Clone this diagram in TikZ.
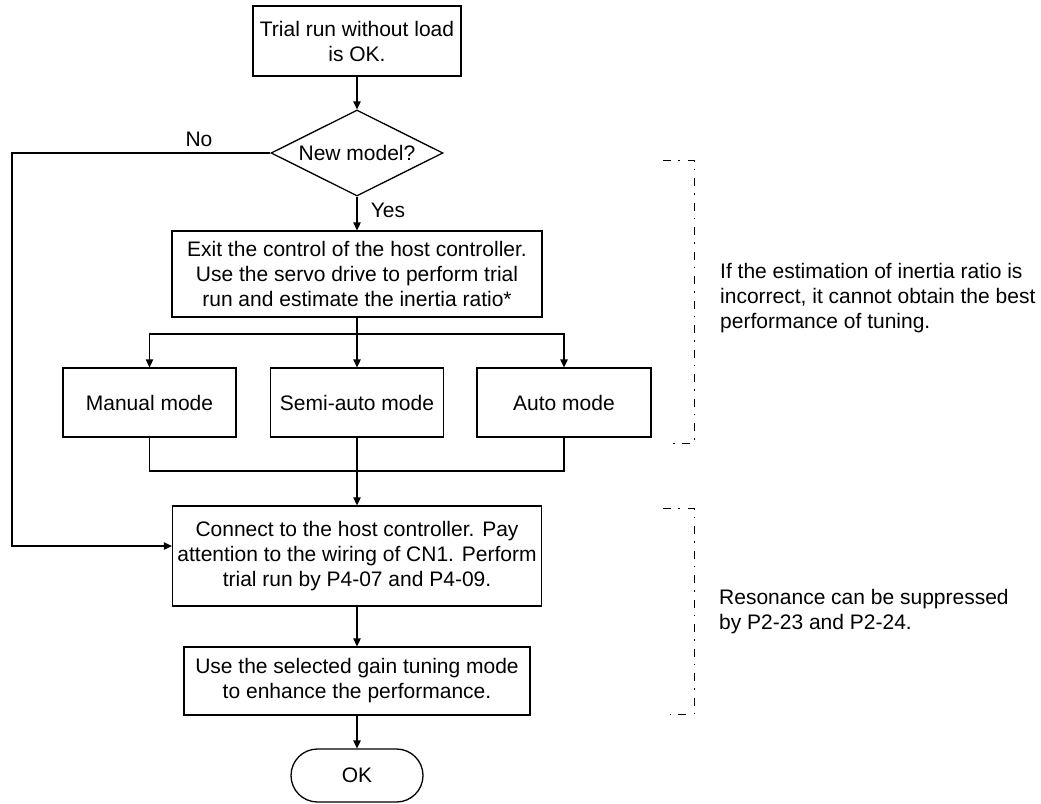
\documentclass[tikz,border=0pt]{standalone}
\usepackage{fontspec}
\setmainfont{Liberation Sans}
\usetikzlibrary{arrows.meta,shapes.geometric,shapes.misc}
\begin{document}
\begin{tikzpicture}[x=1pt,y=-1pt,
  txt/.style={font=\fontsize{21pt}{25pt}\selectfont},
  box/.style={txt,draw,line width=1.3pt,rectangle,align=center,inner sep=0pt},
  dec/.style={txt,draw,line width=1.3pt,diamond,aspect=2,inner sep=0pt,minimum width=172pt,minimum height=86pt},
  term/.style={txt,draw,line width=1.3pt,rounded rectangle,inner sep=0pt,minimum width=132pt,minimum height=53pt},
  conn/.style={line width=1.3pt},
  arr/.style={conn,-{Triangle[length=8pt,width=7.5pt]}},
  brk/.style={line width=0.9pt,dash pattern=on 8pt off 7pt on 1.5pt off 8pt},
  note/.style={txt,align=left,anchor=west,inner sep=0pt}]
\useasboundingbox (0,0) rectangle (1041,803);

\node[box,minimum width=208pt,minimum height=70pt] (start) at (357,41) {Trial run without load\\is OK.};
\node[dec] (q) at (357,153) {New model?};
\node[box,minimum width=370pt,minimum height=86pt] (exit) at (357,274) {Exit the control of the host controller.\\Use the servo drive to perform trial\\run and estimate the inertia ratio*};
\node[box,minimum width=173pt,minimum height=69pt] (manual) at (149.5,402.5) {Manual mode};
\node[box,minimum width=173pt,minimum height=69pt] (semi) at (357,402.5) {Semi-auto mode};
\node[box,minimum width=174pt,minimum height=69pt] (auto) at (564,402.5) {Auto mode};
\node[box,minimum width=369pt,minimum height=100pt] (connect) at (357,556) {Connect to the host controller. Pay\\attention to the wiring of CN1. Perform\\trial run by P4-07 and P4-09.};
\node[box,minimum width=346pt,minimum height=68pt] (use) at (357,681) {Use the selected gain tuning mode\\to enhance the performance.};
\node[term] (ok) at (357,775.5) {OK};

\coordinate (noX) at (12,0);
\coordinate (split) at (357,334);
\coordinate (join) at (357,471);

\draw[arr] (start.south) -- (q.north);
\draw[arr] (q.west) -- (q.west -| noX) |- ([yshift=10pt]connect.west);
\node[txt] (no) at (199,139) {No};
\draw[arr] (q.south) -- (exit.north);
\node[txt] (yes) at (388,210) {Yes};
\draw[conn] (exit.south) -- (split);
\draw[arr] (split) -| (manual.north);
\draw[arr] (split) -| (auto.north);
\draw[arr] (split) -- (semi.north);
\draw[conn] (manual.south) |- (join) -| (auto.south);
\draw[arr] (semi.south) -- (connect.north);
\draw[arr] (connect.south) -- (use.north);
\draw[arr] (use.south) -- (ok.north);

\coordinate (b1a) at (663,160);
\coordinate (b1b) at (694,160);
\coordinate (b1c) at (694,443);
\coordinate (b1d) at (667,443);
\draw[brk] (b1a) -- (b1b) -- (b1c) -- (b1d);
\coordinate (b2a) at (663,508);
\coordinate (b2b) at (694,508);
\coordinate (b2c) at (694,714);
\coordinate (b2d) at (667,714);
\draw[brk] (b2a) -- (b2b) -- (b2c) -- (b2d);

\node[note] (n1) at (720,298) {If the estimation of inertia ratio is\\incorrect, it cannot obtain the best\\performance of tuning.};
\node[note] (n2) at (719,612) {Resonance can be suppressed\\by P2-23 and P2-24.};
\end{tikzpicture}
\end{document}
